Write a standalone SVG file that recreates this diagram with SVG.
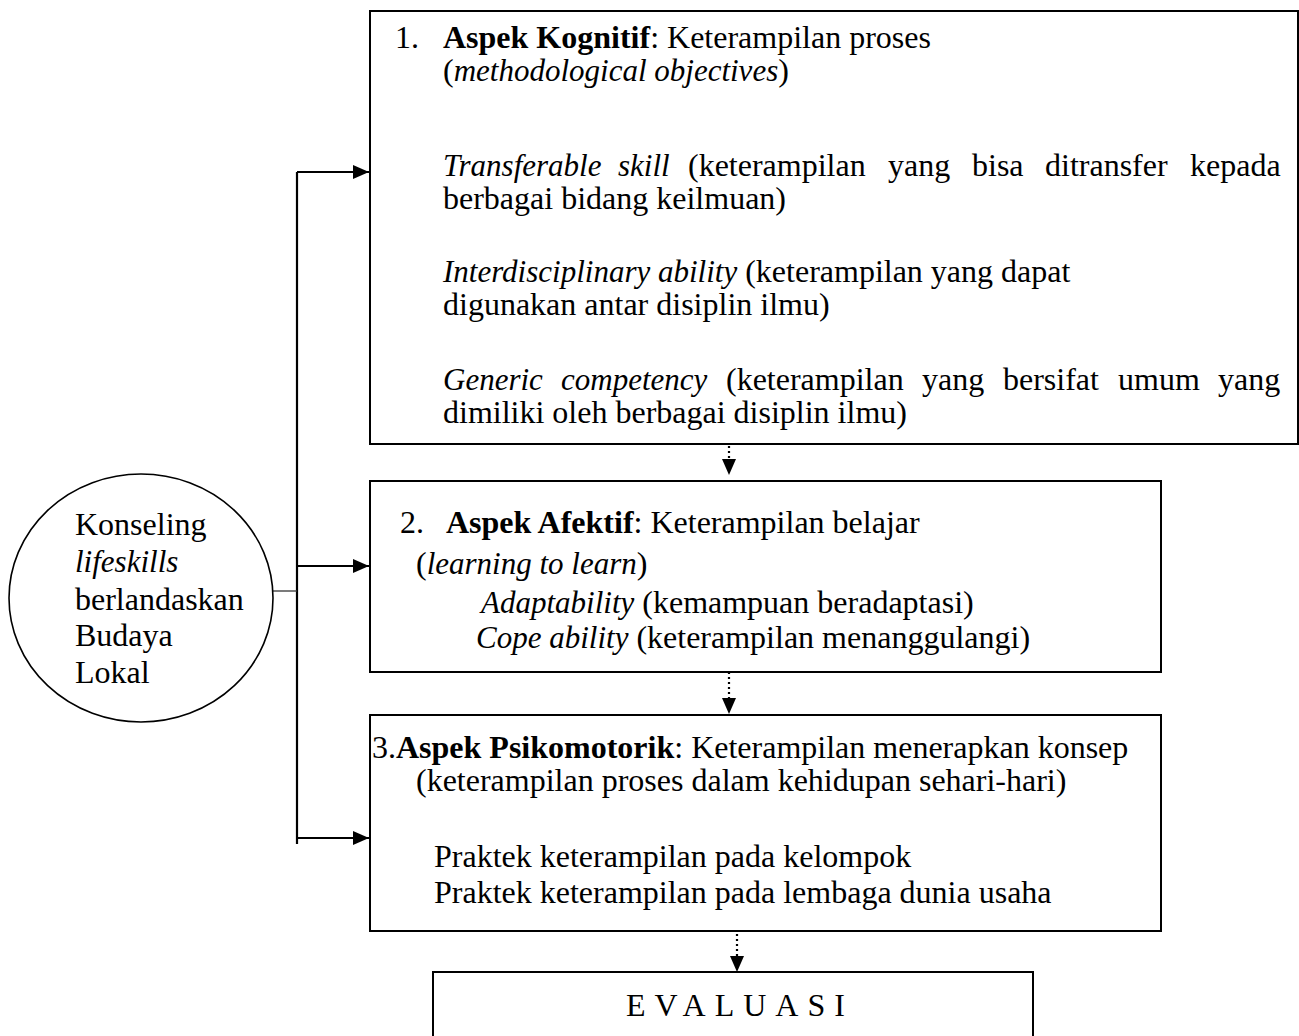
<svg xmlns="http://www.w3.org/2000/svg" width="1299" height="1036" viewBox="0 0 1299 1036">
<style>
text{font-family:"Liberation Serif","Times New Roman",serif;font-size:32px;fill:#000}
.b{font-weight:bold}
.i{font-style:italic;font-size:31px}
.box{fill:#fff;stroke:#000;stroke-width:2}
.ln{fill:none;stroke:#000;stroke-width:2.2}
.dot{fill:none;stroke:#000;stroke-width:2.2;stroke-dasharray:2 3}
</style>
<defs>
<marker id="ah" viewBox="0 0 16 14" refX="16" refY="7" markerWidth="16" markerHeight="14" markerUnits="userSpaceOnUse" orient="auto">
<path d="M0,0 L16,7 L0,14 Z" fill="#000"/>
</marker>
</defs>
<rect width="1299" height="1036" fill="#fff"/>
<g id="connectors">
<line class="ln" x1="297" y1="172" x2="297" y2="844"/>
<line x1="273" y1="591" x2="297" y2="591" stroke="#333" stroke-width="1.3"/>
<line class="ln" x1="297" y1="172" x2="369" y2="172" marker-end="url(#ah)"/>
<line class="ln" x1="297" y1="566" x2="369" y2="566" marker-end="url(#ah)"/>
<line class="ln" x1="297" y1="838" x2="369" y2="838" marker-end="url(#ah)"/>
<line class="dot" x1="729" y1="421" x2="729" y2="459"/>
<path d="M722,459 L736,459 L729,475 Z" fill="#000"/>
<line class="dot" x1="729" y1="667" x2="729" y2="698"/>
<path d="M722,698 L736,698 L729,714 Z" fill="#000"/>
<line class="dot" x1="737" y1="924" x2="737" y2="956"/>
<path d="M730,956 L744,956 L737,972 Z" fill="#000"/>
</g>
<g id="node-konseling">
<ellipse cx="141" cy="598" rx="132" ry="124" fill="#fff" stroke="#000" stroke-width="1.6"/>
<text x="75" y="535">Konseling</text>
<text x="75" y="572" class="i">lifeskills</text>
<text x="75" y="610">berlandaskan</text>
<text x="75" y="646">Budaya</text>
<text x="75" y="683">Lokal</text>
</g>
<g id="node-kognitif">
<rect class="box" x="370" y="11" width="928" height="433"/>
<text x="395" y="48">1.</text>
<text x="443" y="48"><tspan class="b">Aspek Kognitif</tspan>: Keterampilan proses</text>
<text x="443" y="81">(<tspan class="i">methodological objectives</tspan>)</text>
<text y="176"><tspan x="443" class="i">Transferable</tspan><tspan x="618" class="i">skill</tspan><tspan x="688">(keterampilan</tspan><tspan x="888">yang</tspan><tspan x="972">bisa</tspan><tspan x="1045">ditransfer</tspan><tspan x="1190">kepada</tspan></text>
<text x="443" y="209">berbagai bidang keilmuan)</text>
<text x="443" y="282"><tspan class="i">Interdisciplinary ability</tspan> (keterampilan yang dapat</text>
<text x="443" y="315">digunakan antar disiplin ilmu)</text>
<text y="390"><tspan x="443" class="i">Generic</tspan><tspan x="561" class="i">competency</tspan><tspan x="726">(keterampilan</tspan><tspan x="922">yang</tspan><tspan x="1003">bersifat</tspan><tspan x="1118">umum</tspan><tspan x="1218">yang</tspan></text>
<text x="443" y="423">dimiliki oleh berbagai disiplin ilmu)</text>
</g>
<g id="node-afektif">
<rect class="box" x="370" y="481" width="791" height="191" stroke-width="2.6"/>
<text x="400" y="533">2.</text>
<text x="446" y="533"><tspan class="b">Aspek Afektif</tspan>: Keterampilan belajar</text>
<text x="416" y="574">(<tspan class="i">learning to learn</tspan>)</text>
<text x="481" y="613"><tspan class="i">Adaptability</tspan> (kemampuan beradaptasi)</text>
<text x="476" y="648"><tspan class="i">Cope ability</tspan> (keterampilan menanggulangi)</text>
</g>
<g id="node-psikomotorik">
<rect class="box" x="370" y="715" width="791" height="216"/>
<text x="372" y="758">3.<tspan class="b">Aspek Psikomotorik</tspan>: Keterampilan menerapkan konsep</text>
<text x="416" y="791">(keterampilan proses dalam kehidupan sehari-hari)</text>
<text x="434" y="867">Praktek keterampilan pada kelompok</text>
<text x="434" y="903">Praktek keterampilan pada lembaga dunia usaha</text>
</g>
<g id="node-evaluasi">
<rect class="box" x="433" y="972" width="600" height="80"/>
<text x="626" y="1016" letter-spacing="9">EVALUASI</text>
</g>
</svg>
